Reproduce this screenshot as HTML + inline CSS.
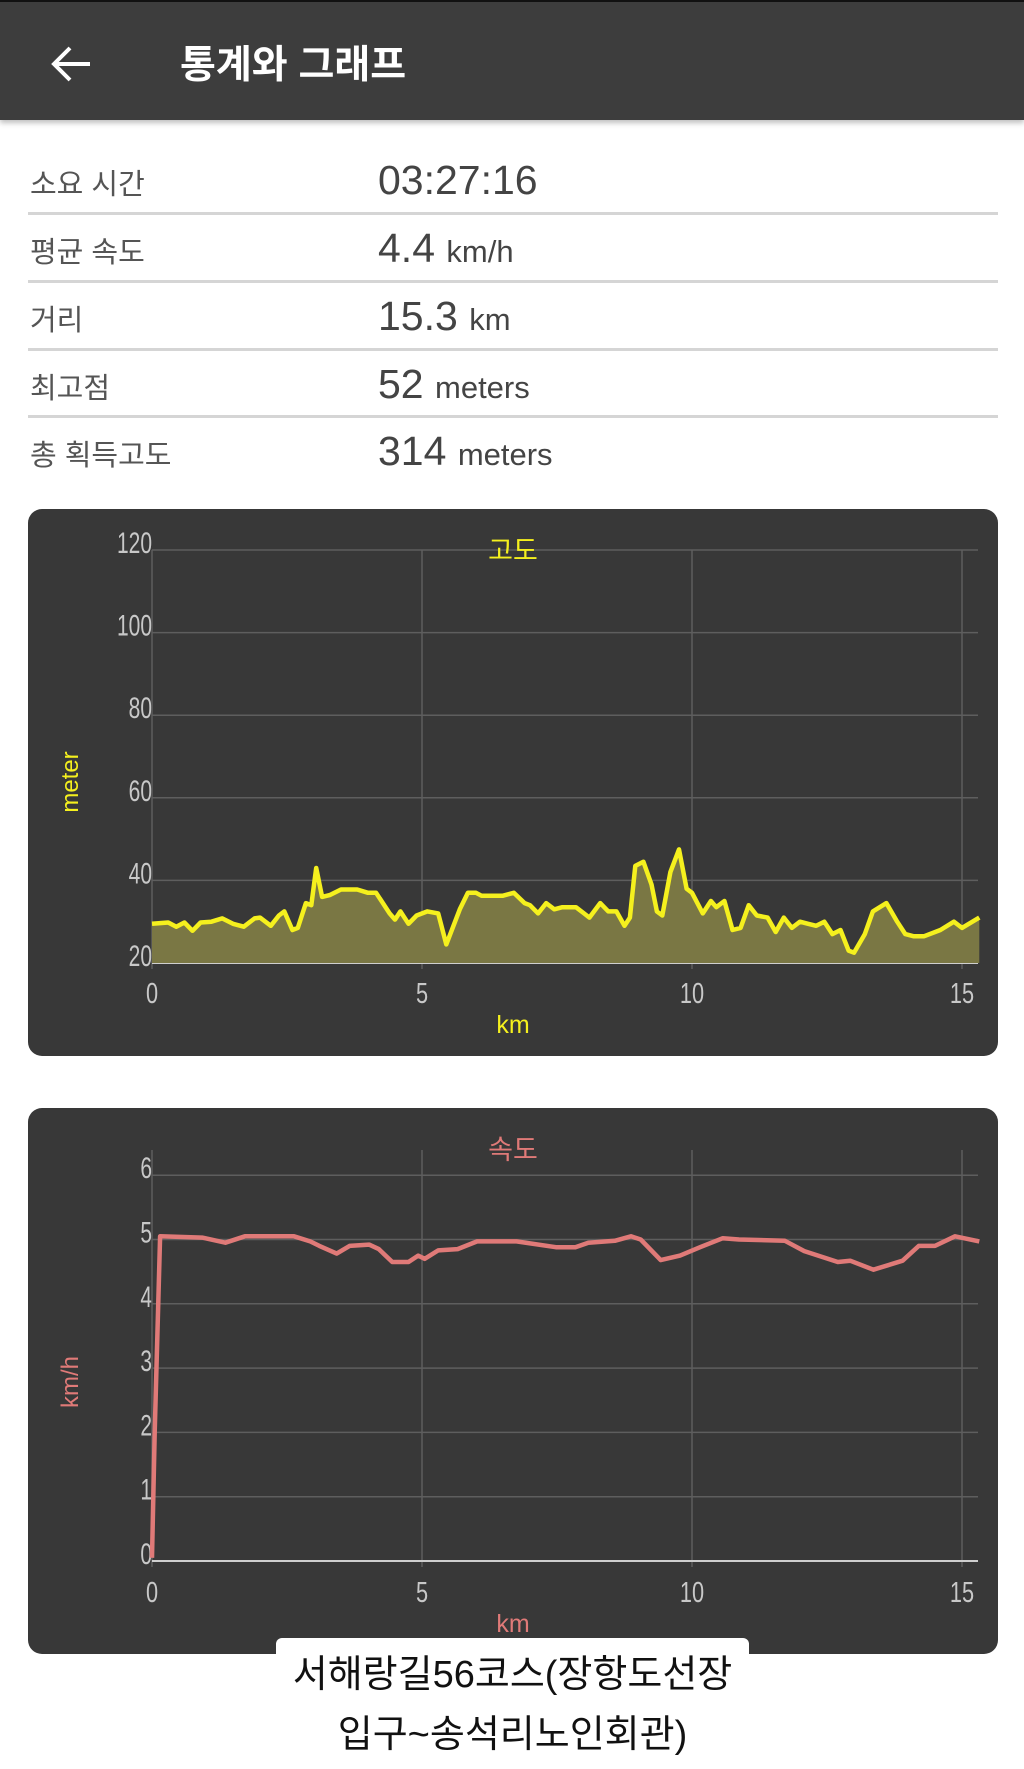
<!DOCTYPE html>
<html><head><meta charset="utf-8">
<style>
*{margin:0;padding:0;box-sizing:border-box}
body{width:1024px;height:1769px;background:#fff;position:relative;overflow:hidden;font-family:"Liberation Sans","Noto Sans CJK KR",sans-serif}
.hdr{position:absolute;left:0;top:0;width:1024px;height:120px;background:#3d3d3d;border-top:2px solid #111;box-shadow:0 3px 5px rgba(0,0,0,.25)}
.hdr .t{position:absolute;left:180px;top:32px;color:#fff;font-size:39px;font-weight:bold}
.lbl{position:absolute;left:30px;font-size:29px;color:#555}
.val{position:absolute;left:378px;color:#444;font-size:41px}
.val small{font-size:31px}
.ln{position:absolute;left:28px;width:970px;height:3px;background:#d5d5d5}
.panel{position:absolute;left:28px;width:970px;border-radius:14px;background:#383838}
.cap{position:absolute;left:276px;top:1638px;width:473px;height:131px;background:#fff;border-radius:6px;text-align:center;font-size:38px;line-height:60px;color:#111;padding-top:7px}
</style></head><body>
<div class="hdr">
<svg style="position:absolute;left:48px;top:42px" width="46" height="40"><path d="M42 20H6M22 4L6 20L22 36" stroke="#fff" stroke-width="4" fill="none"/></svg>
<div class="t">통계와 그래프</div></div>
<div class="lbl" style="top:161px">소요 시간</div><div class="val" style="top:157px">03:27:16</div><div class="ln" style="top:212px"></div>
<div class="lbl" style="top:229px">평균 속도</div><div class="val" style="top:225px">4.4 <small>km/h</small></div><div class="ln" style="top:280px"></div>
<div class="lbl" style="top:297px">거리</div><div class="val" style="top:293px">15.3 <small>km</small></div><div class="ln" style="top:348px"></div>
<div class="lbl" style="top:365px">최고점</div><div class="val" style="top:361px">52 <small>meters</small></div><div class="ln" style="top:415px"></div>
<div class="lbl" style="top:432px">총 획득고도</div><div class="val" style="top:428px">314 <small>meters</small></div>
<div class="panel" style="top:509px;height:547px"></div>
<div class="panel" style="top:1108px;height:546px"></div>
<svg id="s" style="position:absolute;left:0;top:0" width="1024" height="1769" font-family="Liberation Sans, Noto Sans CJK KR, sans-serif"></svg>
<div class="cap">서해랑길56코스(장항도선장<br>입구~송석리노인회관)</div>
<script>
const S=document.getElementById('s');let h='';
const X=k=>152+k*54;
function chart(top,bot,ticks,col,title,unit,data,fill,yOf,tY,kmY,lblY){
 for(const t of ticks){const y=yOf(t);h+=`<line x1="152" x2="978" y1="${y}" y2="${y}" stroke="#5e5e5e" stroke-width="1.5"/>`;
 h+=`<text x="${152/0.7}" y="${y+3}" text-anchor="end" fill="#c8c8c8" font-size="30" transform="scale(0.7 1)">${t}</text>`;}
 for(const k of [0,5,10,15]){h+=`<line x1="${X(k)}" x2="${X(k)}" y1="${top}" y2="${bot+6}" stroke="#5e5e5e" stroke-width="1.5"/>`;
 h+=`<text x="${X(k)/0.75}" y="${kmY}" text-anchor="middle" fill="#c8c8c8" font-size="29" transform="scale(0.75 1)">${k}</text>`;}
 h+=`<line x1="152" x2="978" y1="${bot}" y2="${bot}" stroke="#cfcfcf" stroke-width="2"/>`;
 const pts=data.map(([k,v])=>X(k).toFixed(1)+','+yOf(v).toFixed(1)).join(' ');
 if(fill)h+=`<polygon points="152,${bot} ${pts} ${X(15.32)},${bot}" fill="#7a7744"/>`;
 h+=`<polyline points="${pts}" fill="none" stroke="${col}" stroke-width="4.5" stroke-linejoin="round"/>`;
 h+=`<text x="513" y="${tY}" text-anchor="middle" fill="${col}" font-size="27">${title}</text>`;
 h+=`<text x="513" y="${kmY+30}" text-anchor="middle" fill="${col}" font-size="25">km</text>`;
 h+=`<text transform="translate(78 ${lblY}) rotate(-90)" text-anchor="middle" fill="${col}" font-size="24">${unit}</text>`;
}
const ele=[[0,29.5],[0.3,29.8],[0.45,28.8],[0.6,29.8],[0.75,27.8],[0.9,29.8],[1.1,30],[1.3,30.8],[1.5,29.5],[1.7,28.8],[1.9,30.8],[2.0,31],[2.2,29],[2.35,31.5],[2.45,32.5],[2.6,28],[2.7,28.5],[2.85,34.5],[2.95,34],[3.04,43],[3.15,36],[3.3,36.5],[3.5,37.8],[3.8,37.8],[4.0,37],[4.15,37],[4.4,32],[4.5,30.5],[4.6,32.5],[4.75,29.5],[4.9,31.5],[5.1,32.5],[5.3,32],[5.45,24.5],[5.7,33],[5.85,37],[6.0,37],[6.1,36.3],[6.5,36.3],[6.7,37],[6.9,34.5],[7.0,34],[7.15,32],[7.3,34.5],[7.45,33],[7.6,33.5],[7.85,33.5],[8.0,32],[8.1,31],[8.3,34.5],[8.45,32.5],[8.6,32.5],[8.75,29],[8.85,31],[8.95,43.5],[9.1,44.5],[9.25,39],[9.35,32.5],[9.45,31.5],[9.6,42],[9.76,47.5],[9.9,38],[10.0,37],[10.2,32],[10.35,35],[10.45,33.5],[10.6,35],[10.75,28],[10.9,28.5],[11.05,34],[11.2,31.5],[11.4,31],[11.55,27.5],[11.7,31],[11.85,28.5],[12.0,30],[12.15,29.5],[12.3,29],[12.45,30],[12.6,27],[12.75,28],[12.9,23],[13.0,22.5],[13.2,27],[13.35,32.5],[13.6,34.5],[13.8,30],[13.95,27],[14.1,26.5],[14.3,26.5],[14.6,28],[14.85,30],[15.0,28.5],[15.32,31]];
chart(550,963,[20,40,60,80,100,120],'#f5f01e','고도','meter',ele,true,m=>963-(m-20)*4.13,560,1003,782);
const sp=[[0,0.05],[0.05,2],[0.15,5.05],[0.93,5.03],[1.36,4.95],[1.72,5.05],[2.63,5.05],[2.93,4.97],[3.1,4.9],[3.42,4.78],[3.66,4.9],[4.02,4.92],[4.2,4.85],[4.45,4.65],[4.75,4.65],[4.93,4.75],[5.05,4.7],[5.3,4.83],[5.66,4.85],[6.02,4.97],[6.75,4.97],[7.48,4.88],[7.84,4.88],[8.08,4.95],[8.57,4.98],[8.87,5.05],[9.05,5.0],[9.42,4.68],[9.78,4.75],[10.15,4.88],[10.57,5.02],[10.87,5.0],[11.72,4.98],[12.08,4.82],[12.7,4.65],[12.93,4.67],[13.36,4.53],[13.9,4.67],[14.2,4.9],[14.5,4.9],[14.87,5.05],[15.32,4.97]];
chart(1150,1561,[0,1,2,3,4,5,6],'#e07a78','속도','km/h',sp,false,v=>1561-v*64.3,1159,1602,1382);
S.innerHTML=h;
</script>
</body></html>
